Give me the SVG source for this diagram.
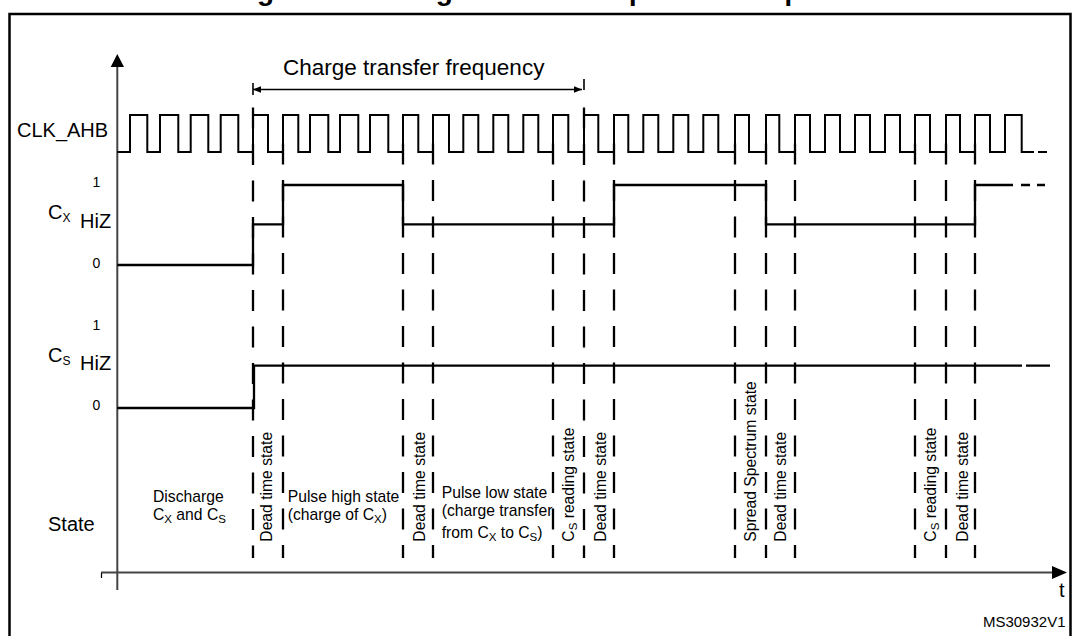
<svg xmlns="http://www.w3.org/2000/svg" width="1076" height="636" viewBox="0 0 1076 636">
<style>
text{font-family:"Liberation Sans",Arial,Helvetica,sans-serif;fill:#000}
.lbl{font-size:20px}
.num{font-size:14px}
.st{font-size:15.7px}
.sub{font-size:12px}
.ssub{font-size:11.5px}
.wave{fill:none;stroke:#000;stroke-width:2;stroke-linejoin:miter;stroke-linecap:butt}
.sig{fill:none;stroke:#000;stroke-width:2.3;stroke-linecap:butt}
.dash{fill:none;stroke:#000;stroke-width:2.3;stroke-dasharray:21 15.5}
.axis{fill:none;stroke:#444;stroke-width:2}
</style>
<defs>
<marker id="ah" viewBox="0 0 10 8" refX="10" refY="4" markerWidth="8" markerHeight="6.4" markerUnits="userSpaceOnUse" orient="auto-start-reverse">
<path d="M0,0 L10,4 L0,8 Z" fill="#000"/>
</marker>
</defs>
<rect width="1076" height="636" fill="#fff"/>
<text x="232" y="-0.5" font-weight="bold" font-size="28">Figure 39. Charge transfer acquisition sequence</text>
<rect id="frame" x="9.5" y="14" width="1061" height="640" fill="none" stroke="#000" stroke-width="2.5"/>
<g id="axes">
<line class="axis" x1="117.3" y1="64" x2="117.3" y2="590" stroke="#222" stroke-width="1.4"/>
<path d="M117.3,54 L110.7,67 L124,67 Z" fill="#000"/>
<line class="axis" x1="101" y1="572.5" x2="1054" y2="572.5"/>
<path d="M1067,572.5 L1052,566 L1052,579 Z" fill="#000"/>
<line x1="101.5" y1="573" x2="101.5" y2="578" stroke="#000" stroke-width="1.2"/>
<text x="1059" y="597" class="lbl" font-size="19">t</text>
</g>
<g id="labels">
<text x="17" y="137" class="lbl">CLK_AHB</text>
<text x="96.5" y="187" class="num" text-anchor="middle">1</text>
<text x="48" y="219" class="lbl">C<tspan class="sub" dy="3">X</tspan></text>
<text x="80" y="228" class="lbl">HiZ</text>
<text x="96.5" y="268" class="num" text-anchor="middle">0</text>
<text x="96.5" y="330" class="num" text-anchor="middle">1</text>
<text x="48" y="362" class="lbl">C<tspan class="sub" dy="3">S</tspan></text>
<text x="80" y="370" class="lbl">HiZ</text>
<text x="96.5" y="410" class="num" text-anchor="middle">0</text>
<text x="48" y="531" class="lbl">State</text>
</g>
<g id="freq">
<line x1="253" y1="89.5" x2="582" y2="89.5" stroke="#000" stroke-width="1.3" marker-start="url(#ah)" marker-end="url(#ah)"/>
<line x1="253" y1="83" x2="253" y2="95" stroke="#000" stroke-width="1.6"/>
<line x1="584" y1="79" x2="584" y2="90" stroke="#000" stroke-width="1.6"/>
<text x="283" y="75" font-size="22.5">Charge transfer frequency</text>
</g>
<g id="connectors">
<g id="dashed-lines">
<path class="dash" d="M253,107.5 V558 M584,107.5 V558"/>
<path class="dash" d="M283,143.5 V558 M403,143.5 V558 M433,143.5 V558 M553,143.5 V558 M614,143.5 V558 M735,143.5 V558 M766,143.5 V558 M795,143.5 V558 M915,143.5 V558 M946,143.5 V558 M975,143.5 V558"/>
</g>
<g id="clk">
<path class="wave" d="M117.3,152 H130 V115 H147.3 V152 H160 V115 H178.3 V152 H190.7 V115 H208.3 V152 H220.7 V115 H238.3 V152 H253 V115 H268 V152 H283 V115 H298.3 V152 H310 V115 H328.3 V152 H340 V115 H358.3 V152 H370 V115 H388.3 V152 H403 V115 H418.3 V152 H433 V115 H449 V152 H463.3 V115 H478.3 V152 H493.3 V115 H508.3 V152 H523.3 V115 H538.3 V152 H553 V115 H568.3 V152 H584 V115 H598.3 V152 H614 V115 H628.3 V152 H643.3 V115 H658.3 V152 H673.3 V115 H688.3 V152 H703.3 V115 H718.3 V152 H735 V115 H749 V152 H766 V115 H779.3 V152 H795 V115 H810 V152 H825 V115 H840 V152 H855 V115 H870 V152 H885 V115 H900 V152 H915 V115 H930 V152 H946 V115 H960 V152 H975 V115 H990 V152 H1005 V115 H1021.7 V152 H1034 M1038,152 H1047"/>
</g>
<g id="cx">
<path class="sig" d="M117.3,265 H253 V224.3 H283 V185 H403 V224.3 H614 V185 H766 V224.3 H975 V185 H1013 M1021,185 H1030 M1037,185 H1045"/>
</g>
<g id="cs">
<path class="sig" d="M117.3,408 H254 V365.7 H1022 M1026,365.7 H1050"/>
</g>
</g>
<g id="states">
<text class="st" x="153" y="501.5">Discharge</text>
<text class="st" x="153" y="519.5">C<tspan class="ssub" dy="3">X</tspan><tspan dy="-3"> and C</tspan><tspan class="ssub" dy="3">S</tspan></text>
<text class="st" x="287.7" y="501.5">Pulse high state</text>
<text class="st" x="287.7" y="519.5">(charge of C<tspan class="ssub" dy="3">X</tspan><tspan dy="-3">)</tspan></text>
<text class="st" x="441.7" y="498.3">Pulse low state</text>
<text class="st" x="441.7" y="515.5">(charge transfer</text>
<text class="st" x="441.7" y="537.5">from C<tspan class="ssub" dy="3">X</tspan><tspan dy="-3"> to C</tspan><tspan class="ssub" dy="3">S</tspan><tspan dy="-3">)</tspan></text>
<text class="st" transform="translate(272,541.7) rotate(-90)">Dead time state</text>
<text class="st" transform="translate(424.5,541.7) rotate(-90)">Dead time state</text>
<text class="st" transform="translate(573.5,541.7) rotate(-90)">C<tspan class="ssub" dy="3">S</tspan><tspan dy="-3"> reading state</tspan></text>
<text class="st" transform="translate(605.5,541.7) rotate(-90)">Dead time state</text>
<text class="st" transform="translate(755.7,541.7) rotate(-90)">Spread Spectrum state</text>
<text class="st" transform="translate(786,541.7) rotate(-90)">Dead time state</text>
<text class="st" transform="translate(935.5,541.7) rotate(-90)">C<tspan class="ssub" dy="3">S</tspan><tspan dy="-3"> reading state</tspan></text>
<text class="st" transform="translate(967.5,541.7) rotate(-90)">Dead time state</text>
</g>
<text x="1065.5" y="627" font-size="15" text-anchor="end">MS30932V1</text>
</svg>
